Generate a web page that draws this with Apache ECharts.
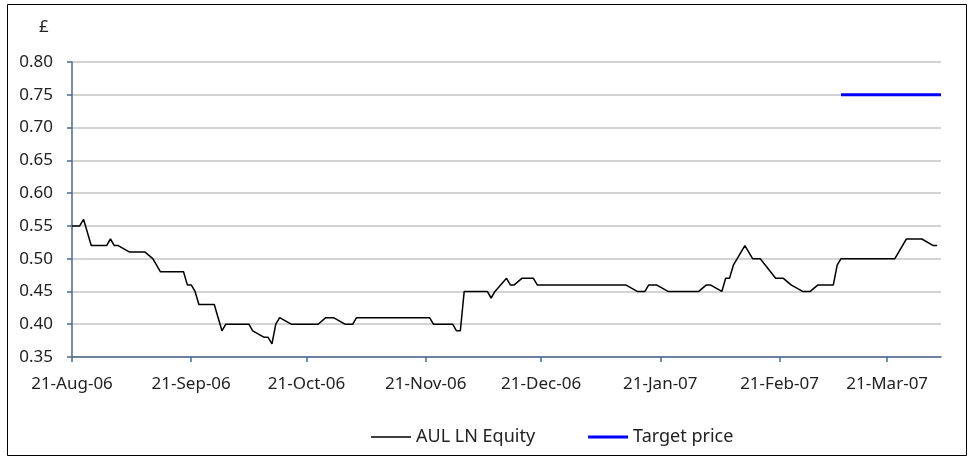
<!DOCTYPE html>
<html>
<head>
<meta charset="utf-8">
<script src="https://cdn.jsdelivr.net/npm/echarts@6/dist/echarts.min.js"></script>
<style>html,body{margin:0;padding:0;background:#fff}#c{width:974px;height:461px}</style>
</head>
<body>
<div id="c"></div>
<script>
const priceDates = ['2006-08-21','2006-08-23','2006-08-24','2006-08-26','2006-08-30','2006-08-31','2006-09-01','2006-09-02','2006-09-05','2006-09-09','2006-09-11','2006-09-12','2006-09-13','2006-09-19','2006-09-20','2006-09-21','2006-09-22','2006-09-23','2006-09-27','2006-09-28','2006-09-29','2006-09-30','2006-10-06','2006-10-07','2006-10-10','2006-10-11','2006-10-12','2006-10-13','2006-10-14','2006-10-17','2006-10-24','2006-10-26','2006-10-28','2006-10-31','2006-11-02','2006-11-03','2006-11-22','2006-11-23','2006-11-28','2006-11-29','2006-11-30','2006-12-01','2006-12-07','2006-12-08','2006-12-09','2006-12-12','2006-12-13','2006-12-14','2006-12-16','2006-12-19','2006-12-20','2007-01-12','2007-01-15','2007-01-17','2007-01-18','2007-01-20','2007-01-23','2007-01-31','2007-02-02','2007-02-03','2007-02-06','2007-02-07','2007-02-08','2007-02-09','2007-02-12','2007-02-14','2007-02-16','2007-02-20','2007-02-22','2007-02-24','2007-02-27','2007-03-01','2007-03-03','2007-03-07','2007-03-08','2007-03-09','2007-03-23','2007-03-26','2007-03-30','2007-04-02','2007-04-03'];
const priceValues = [0.55,0.55,0.56,0.52,0.52,0.53,0.52,0.52,0.51,0.51,0.50,0.49,0.48,0.48,0.46,0.46,0.45,0.43,0.43,0.41,0.39,0.40,0.40,0.39,0.38,0.38,0.37,0.40,0.41,0.40,0.40,0.41,0.41,0.40,0.40,0.41,0.41,0.40,0.40,0.39,0.39,0.45,0.45,0.44,0.45,0.47,0.46,0.46,0.47,0.47,0.46,0.46,0.45,0.45,0.46,0.46,0.45,0.45,0.46,0.46,0.45,0.47,0.47,0.49,0.52,0.50,0.50,0.47,0.47,0.46,0.45,0.45,0.46,0.46,0.49,0.50,0.50,0.53,0.53,0.52,0.52];
const targetDates = ['2007-03-09','2007-04-04'];
const targetValues = [0.75,0.75];
const tickDates = ['2006-08-21','2006-09-21','2006-10-21','2006-11-21','2006-12-21','2007-01-21','2007-02-21','2007-03-21'];
const tickLabels = ['21-Aug-06','21-Sep-06','21-Oct-06','21-Nov-06','21-Dec-06','21-Jan-07','21-Feb-07','21-Mar-07'];
const axisMinDate = '2006-08-21';
const axisMaxDate = '2007-04-04';

function ts(s){const p=s.split('-').map(Number);return Date.UTC(p[0],p[1]-1,p[2]);}
const tickTs = tickDates.map(ts);
const FONT = 'Noto Sans';
const chart = echarts.init(document.getElementById('c'));
chart.setOption({
  animation:false,
  backgroundColor:'#fff',
  textStyle:{fontFamily:FONT},
  title:{text:'£',left:34,top:14,textStyle:{fontFamily:FONT,fontSize:17,fontWeight:'normal',color:'#222'}},
  graphic:[{type:'rect',shape:{x:7.5,y:4.5,width:959,height:451},style:{fill:'none',stroke:'#000',lineWidth:1},silent:true}],
  grid:{left:72,right:33,top:62,bottom:104},
  legend:{bottom:10,left:366,itemWidth:40,itemHeight:14,itemGap:53,
    textStyle:{fontFamily:FONT,fontSize:18,color:'#222'},
    data:[{name:'AUL LN Equity',icon:'path://M0,0L40,0L40,1.5L0,1.5Z'},{name:'Target price',icon:'path://M0,0L40,0L40,3L0,3Z'}]},
  xAxis:{type:'value',min:ts(axisMinDate),max:ts(axisMaxDate),
    axisLine:{lineStyle:{color:'#4a6a8c',width:1.5}},
    axisTick:{show:true,length:5,customValues:tickTs,lineStyle:{color:'#4a6a8c',width:1.5}},
    axisLabel:{customValues:tickTs,margin:19,fontFamily:FONT,fontSize:17,color:'#222',showMinLabel:true,showMaxLabel:true,
      formatter:function(v){const i=tickTs.indexOf(v);return i>=0?tickLabels[i]:'';}},
    splitLine:{show:false}},
  yAxis:{type:'value',min:0.35,max:0.80,interval:0.05,
    axisLine:{show:true,lineStyle:{color:'#4a6a8c',width:1.5}},
    axisTick:{show:true,length:5,lineStyle:{color:'#4a6a8c',width:1.5}},
    axisLabel:{margin:19,fontFamily:FONT,fontSize:17,color:'#222',formatter:function(v){return v.toFixed(2);}},
    splitLine:{show:true,lineStyle:{color:'#c4c4c4',width:1.5}}},
  series:[
    {name:'AUL LN Equity',type:'line',symbol:'none',color:'#000',lineStyle:{color:'#000',width:1.5},
      data:priceDates.map((d,i)=>[ts(d),priceValues[i]])},
    {name:'Target price',type:'line',symbol:'none',color:'#0000ff',lineStyle:{color:'#0000ff',width:3},
      data:targetDates.map((d,i)=>[ts(d),targetValues[i]])}
  ]
});
</script>
</body>
</html>
